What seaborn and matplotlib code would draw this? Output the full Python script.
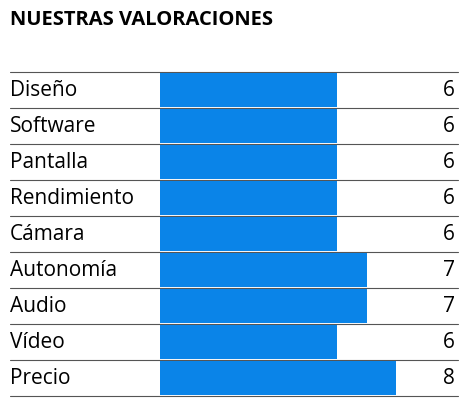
import matplotlib
matplotlib.use("Agg")
import matplotlib.pyplot as plt
import seaborn as sns
import pandas as pd

categories = ["Diseño", "Software", "Pantalla", "Rendimiento", "Cámara",
              "Autonomía", "Audio", "Vídeo", "Precio"]
scores = [6, 6, 6, 6, 6, 7, 7, 6, 8]

df = pd.DataFrame({"cat": categories, "score": scores})

sns.set_style("white")
plt.rcParams["font.family"] = ["Open Sans", "DejaVu Sans"]

fig = plt.figure(figsize=(4.69, 4.02), dpi=100)
ax = fig.add_axes([160 / 469, 5 / 402, 295 / 469, 324 / 402])

sns.barplot(data=df, x="score", y="cat", color="#0a84e8", saturation=1,
            width=0.95, ax=ax, orient="h", linewidth=0)
ax.set_xlim(0, 10)
ax.set_ylim(len(categories) - 0.5, -0.5)
ax.set_xlabel("")
ax.set_ylabel("")
ax.set_xticks([])
ax.set_yticks([])
for s in ax.spines.values():
    s.set_visible(False)

left = -150 / 295
for i in range(len(categories) + 1):
    ax.axhline(i - 0.5, xmin=left, xmax=1.01, color="#555555", lw=0.8,
               clip_on=False, zorder=0)

for i, (c, v) in enumerate(zip(categories, scores)):
    ax.text(left * 10, i, c, ha="left", va="center", fontsize=15, color="black")
    ax.text(10.0, i, str(v), ha="right", va="center", fontsize=15, color="black")

fig.text(10 / 469, 1 - 20 / 402, "NUESTRAS VALORACIONES", fontsize=14.5,
         fontweight="bold", ha="left", va="center", color="black")

fig.savefig("out.png", dpi=100)
